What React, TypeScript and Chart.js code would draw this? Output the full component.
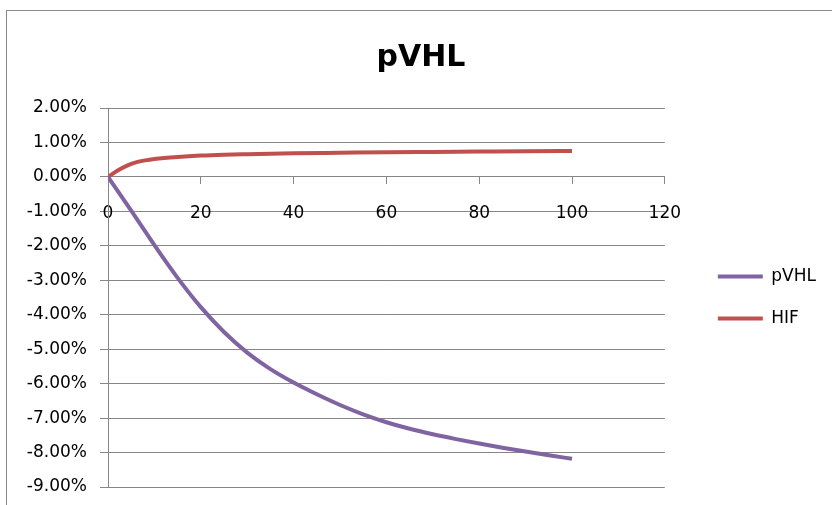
import React, { useEffect, useRef } from "react";
import { Chart, registerables } from "chart.js";

Chart.register(...registerables);

const chartTitle = "pVHL";
const pvhlLabel = "pVHL";
const hifLabel = "HIF";

const pvhlX = [0, 5, 10, 15, 20, 25, 30, 35, 40, 45, 50, 55, 60, 65, 70, 75, 80, 85, 90, 95, 100];
const pvhlY = [0, -0.98, -1.98, -2.93, -3.78, -4.5, -5.1, -5.58, -5.97, -6.31, -6.62, -6.89, -7.12, -7.31, -7.47, -7.61, -7.74, -7.86, -7.97, -8.08, -8.18];

const hifX = [0, 2, 4, 6, 8, 10, 15, 20, 25, 30, 40, 50, 60, 70, 80, 90, 100];
const hifY = [0, 0.18, 0.32, 0.42, 0.48, 0.52, 0.58, 0.62, 0.645, 0.66, 0.685, 0.7, 0.715, 0.725, 0.735, 0.745, 0.75];

const xMin = 0;
const xMax = 120;
const xStep = 20;
const yMin = -9;
const yMax = 2;
const yStep = 1;

const FONT = "'DejaVu Sans', sans-serif";
const GRID = "#868686";

export default function App() {
  const ref = useRef<HTMLCanvasElement>(null);

  useEffect(() => {
    const chart = new Chart(ref.current as HTMLCanvasElement, {
      type: "scatter",
      data: {
        datasets: [
          {
            label: pvhlLabel,
            data: pvhlX.map((x, i) => ({ x, y: pvhlY[i] })),
            borderColor: "#8064A2",
            backgroundColor: "#8064A2",
            borderWidth: 4,
            showLine: true,
            pointRadius: 0,
            cubicInterpolationMode: "monotone",
          },
          {
            label: hifLabel,
            data: hifX.map((x, i) => ({ x, y: hifY[i] })),
            borderColor: "#C0504D",
            backgroundColor: "#C0504D",
            borderWidth: 4,
            showLine: true,
            pointRadius: 0,
            cubicInterpolationMode: "monotone",
          },
        ],
      },
      options: {
        animation: false,
        responsive: false,
        maintainAspectRatio: false,
        layout: { padding: { left: 16, right: 6, top: 10, bottom: 18 } },
        plugins: {
          title: {
            display: true,
            text: chartTitle,
            color: "#000",
            font: { family: FONT, size: 30, weight: "bold", lineHeight: 1.2 },
            padding: { top: 30, bottom: 32 },
          },
          legend: {
            position: "right",
            fullSize: false,
            align: "center",
            labels: {
              usePointStyle: true,
              pointStyle: "line",
              pointStyleWidth: 45,
              padding: 25,
              color: "#000",
              font: { family: FONT, size: 17 },
            },
          },
          tooltip: { enabled: false },
        },
        scales: {
          x: {
            type: "linear",
            position: { y: 0 } as any,
            min: xMin,
            max: xMax,
            ticks: {
              stepSize: xStep,
              color: "#000",
              font: { family: FONT, size: 17 },
              padding: 19,
              maxRotation: 0,
            },
            grid: { drawOnChartArea: false, drawTicks: true, tickLength: 7, color: GRID },
            border: { color: GRID },
          },
          y: {
            type: "linear",
            position: "left",
            min: yMin,
            max: yMax,
            ticks: {
              stepSize: yStep,
              callback: (v: any) => Number(v).toFixed(2) + "%",
              padding: 13,
              color: "#000",
              font: { family: FONT, size: 17 },
            },
            grid: { color: GRID, tickLength: 8 },
            border: { color: GRID },
            afterFit: (s: any) => {
              s.width = 92;
              s.paddingTop = 0;
              s.paddingBottom = 0;
            },
          },
          y2: {
            type: "linear",
            position: "right",
            display: true,
            ticks: { display: false },
            grid: { display: false },
            border: { display: false },
            afterFit: (s: any) => {
              s.width = 28;
            },
          },
        },
      } as any,
    });
    return () => chart.destroy();
  }, []);

  return (
    <div
      style={{
        position: "fixed",
        left: 0,
        top: 0,
        width: 832,
        height: 505,
        overflow: "hidden",
        background: "#fff",
      }}
    >
      <div
        style={{
          position: "absolute",
          left: 6,
          top: 10,
          width: 900,
          height: 600,
          border: "1px solid #898989",
        }}
      />
      <canvas
        ref={ref}
        width={832}
        height={505}
        style={{ position: "absolute", left: 0, top: 0, width: 832, height: 505 }}
      />
    </div>
  );
}
